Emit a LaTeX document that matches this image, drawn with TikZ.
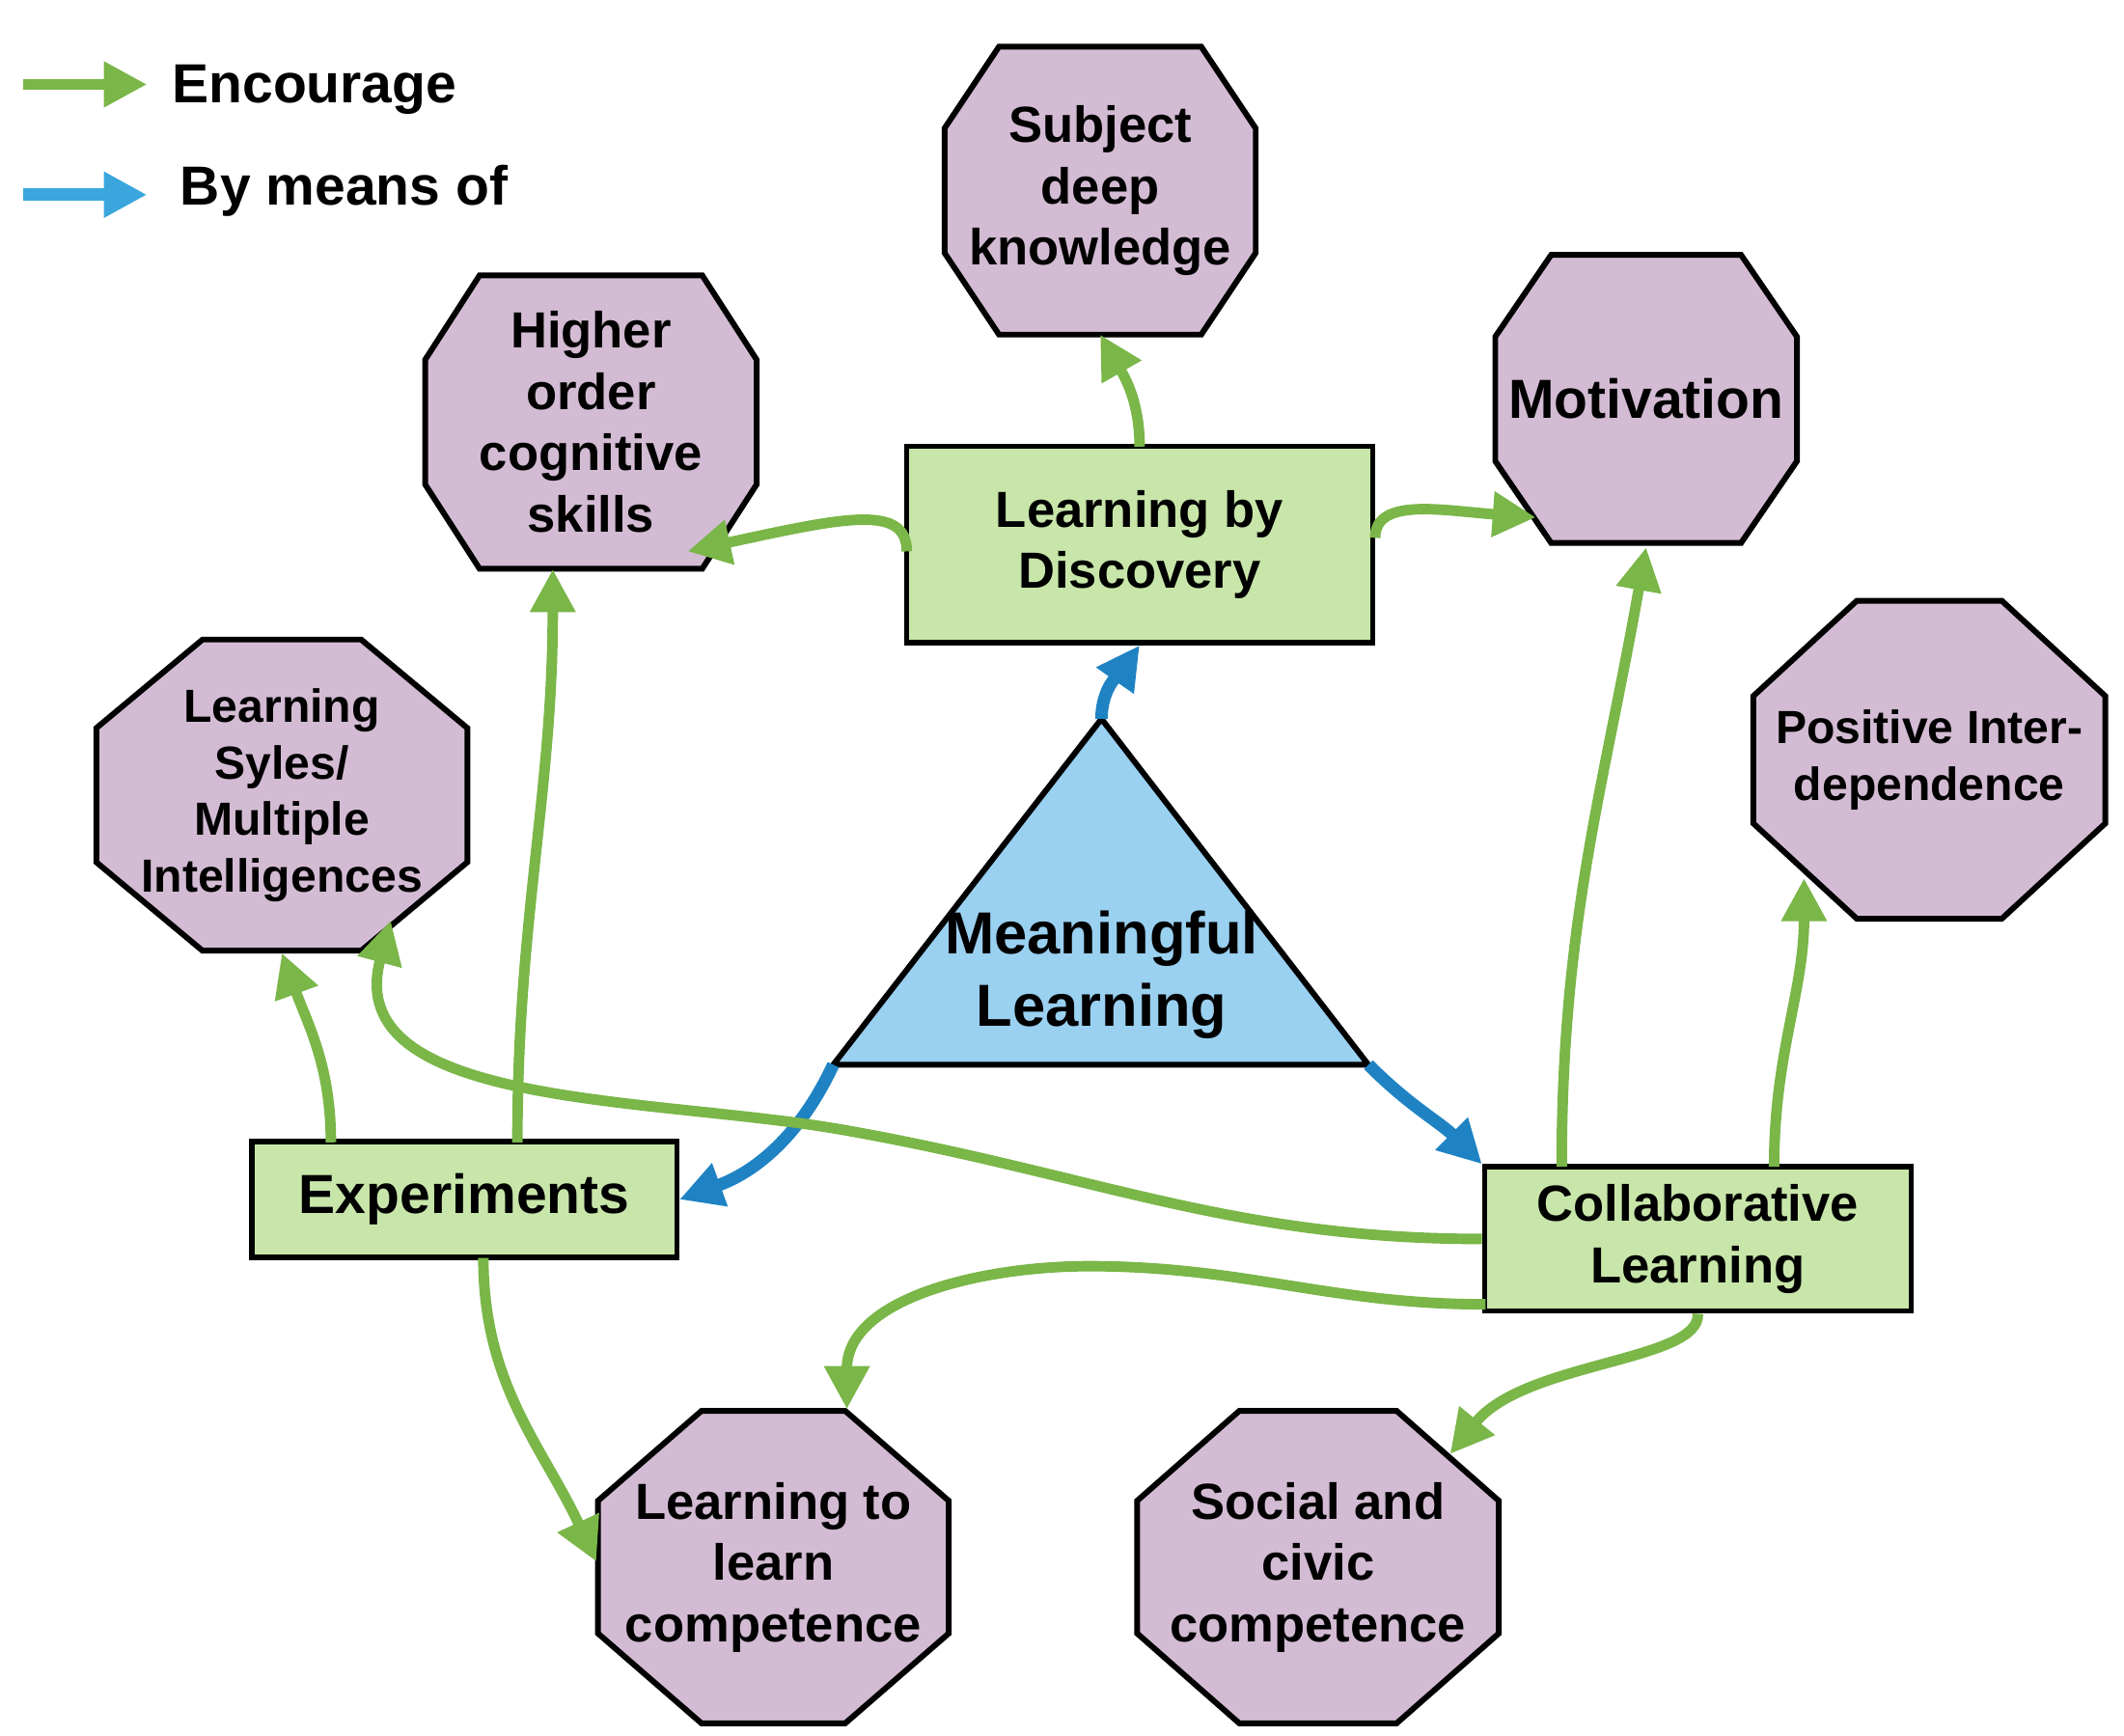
\documentclass[tikz,border=0pt]{standalone}
\usepackage{fontspec}
\setmainfont{Liberation Sans}
\usetikzlibrary{arrows.meta,backgrounds}
\definecolor{encgreen}{HTML}{7AB648}
\definecolor{meanblue}{HTML}{1F83C3}
\definecolor{legblue}{HTML}{3AA6DD}
\definecolor{octfill}{HTML}{D3BCD3}
\definecolor{boxfill}{HTML}{C8E6AA}
\definecolor{trifill}{HTML}{9AD0F0}
\tikzset{
  enc/.style={encgreen, line width=2.2pt, -{Triangle[length=9pt,width=9pt]}},
  means/.style={meanblue, line width=2.6pt, -{Triangle[length=9pt,width=9pt]}},
  oct/.style={rectangle, align=center, font=\bfseries\fontsize{10.6}{12.8}\selectfont, inner sep=0pt},
  octline/.style={draw, line width=1.2pt, fill=octfill},
  box/.style={rectangle, draw, line width=1.1pt, fill=boxfill, align=center, font=\bfseries\fontsize{10.6}{12.8}\selectfont}
}
% octagon round a node: name, corner cut in x, corner cut in y
\newcommand{\octround}[3]{\draw[octline] ([xshift=#2]#1.north west) -- ([xshift=-#2]#1.north east)
  -- ([yshift=-#3]#1.north east) -- ([yshift=#3]#1.south east) -- ([xshift=-#2]#1.south east)
  -- ([xshift=#2]#1.south west) -- ([yshift=#3]#1.south west) -- ([yshift=-#3]#1.north west) -- cycle;}
\begin{document}
\begin{tikzpicture}[x=0.01cm,y=-0.01cm]
\useasboundingbox (0,0) rectangle (1560,1275);
% legend
\coordinate (enc1) at (17,62); \coordinate (enc2) at (108,62);
\coordinate (by1) at (17,143); \coordinate (by2) at (108,143);
\draw[enc] (enc1) -- (enc2);
\draw[legblue, line width=2.6pt, -{Triangle[length=9pt,width=9pt]}] (by1) -- (by2);
\node[anchor=west, font=\bfseries\fontsize{11.5}{14}\selectfont] (legE) at (114,66) {Encourage};
\node[anchor=west, font=\bfseries\fontsize{11.5}{14}\selectfont] (legB) at (120,140) {By means of};
% outcomes
\node[oct, minimum width=2.27cm, minimum height=2.1cm] (sdk) at (808,140) {Subject\\deep\\knowledge};
\node[oct, minimum width=2.42cm, minimum height=2.14cm] (hocs) at (434,310) {Higher\\order\\cognitive\\skills};
\node[oct, minimum width=2.2cm, minimum height=2.1cm, font=\bfseries\fontsize{11.5}{14}\selectfont] (mot) at (1209,293) {Motivation};
\node[oct, minimum width=2.71cm, minimum height=2.27cm, font=\bfseries\fontsize{9.7}{11.8}\selectfont] (ls) at (207,584) {Learning\\Syles/\\Multiple\\Intelligences};
\node[oct, minimum width=2.57cm, minimum height=2.32cm, font=\bfseries\fontsize{9.7}{11.8}\selectfont] (pi) at (1417,558) {Positive Inter-\\dependence};
\node[oct, minimum width=2.56cm, minimum height=2.28cm] (ltl) at (568,1151) {Learning to\\learn\\competence};
\node[oct, minimum width=2.64cm, minimum height=2.28cm] (scc) at (968,1151) {Social and\\civic\\competence};
\begin{scope}[on background layer]
  \octround{sdk}{0.4cm}{0.6cm}
  \octround{hocs}{0.4cm}{0.62cm}
  \octround{mot}{0.41cm}{0.6cm}
  \octround{ls}{0.78cm}{0.65cm}
  \octround{pi}{0.76cm}{0.7cm}
  \octround{ltl}{0.76cm}{0.66cm}
  \octround{scc}{0.75cm}{0.66cm}
\end{scope}
% methods
\node[box, minimum width=3.42cm, minimum height=1.44cm] (lbd) at (837,400) {Learning by\\Discovery};
\node[box, minimum width=3.12cm, minimum height=0.85cm, font=\bfseries\fontsize{11.5}{14}\selectfont] (exp) at (341,881) {Experiments};
\node[box, minimum width=3.13cm, minimum height=1.06cm] (cl) at (1247,910) {Collaborative\\Learning};
% triangle
\coordinate (apex) at (809,528);
\coordinate (bl) at (612,782);
\coordinate (br) at (1005,782);
\draw[line width=1.2pt, fill=trifill] (apex) -- (bl) -- (br) -- cycle;
\node[font=\bfseries\fontsize{12.4}{15}\selectfont, align=center] (ml) at (809,716) {Meaningful\\Learning};
% by means of
\draw[means] (apex) to[out=90,in=235] (lbd.south);
\draw[means] (bl) to[out=-115,in=20] (exp.east);
\draw[means] (br) to[out=-45,in=135] (cl.north west);
% encourage
\draw[enc] (837,328) to[out=90,in=-60] (sdk.south);
\draw[enc] (666,405) .. controls (666,370) and (620,380) .. (505,405);
\draw[enc] (1010,395) .. controls (1010,365) and (1060,375) .. (1128,380);
\draw[enc] (243,839) to[out=90,in=-70] (207,700);
\draw[enc] (380,839) to[out=90,in=-90] (406,418);
\draw[enc] (355,924) to[out=-90,in=115] (438,1147);
\draw[enc] (cl.west) to[out=180,in=-10] (620,830) to[out=170,in=-105] (287,676);
\draw[enc] (1091,958) to[out=180,in=0] (800,930) to[out=180,in=90] (622,1035);
\draw[enc] (1147,857) to[out=90,in=-100] (1209,402);
\draw[enc] (1303,857) to[out=90,in=-90] (1325,645);
\draw[enc] (cl.south) .. controls (1249,1000) and (1120,1000) .. (1065,1068);
\end{tikzpicture}
\end{document}
